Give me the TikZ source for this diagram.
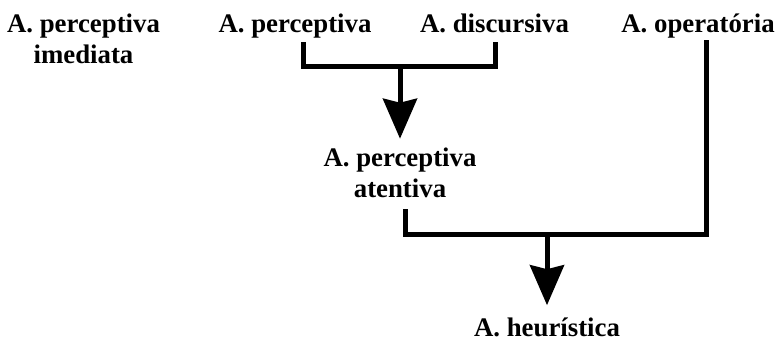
\documentclass[tikz,border=0pt]{standalone}
\usepackage{fontspec}
\setmainfont{Liberation Serif}
\usepackage{tikz}
\usetikzlibrary{arrows.meta,positioning}

\begin{document}
\begin{tikzpicture}[x=1pt,y=-1pt,
  lbl/.style={font=\bfseries\fontsize{26.8}{30.5}\selectfont,inner sep=0pt,anchor=base,align=center},
  bracket/.style={line width=5pt,line join=miter},
  flow/.style={line width=5pt,-{Stealth[length=40pt,width=34pt,inset=4pt]}}]
\useasboundingbox (0,0) rectangle (778,340);
\node[lbl] (imed) at (83.5,63) {A. perceptiva\\imediata};
\node[lbl] (perc) at (295,32) {A. perceptiva};
\node[lbl] (disc) at (494.5,32) {A. discursiva};
\node[lbl] (oper) at (698,32) {A. operatória};
\node[lbl] (aten) at (400,197) {A. perceptiva\\atentiva};
\node[lbl] (heur) at (547,336) {A. heurística};

\coordinate (p1) at (303,42);
\coordinate (d1) at (495,42);
\coordinate (j1) at (400,66);
\coordinate (o1) at (706,40);
\coordinate (a1) at (405,209);
\coordinate (j2) at (547,234);

\draw[bracket] (p1) |- (j1) -| (d1);
\draw[flow] (j1) -- ([yshift=9pt]aten.north);
\draw[bracket] (a1) |- (j2) -| (o1);
\draw[flow] (j2) -- ([yshift=12pt]heur.north);
\end{tikzpicture}
\end{document}
